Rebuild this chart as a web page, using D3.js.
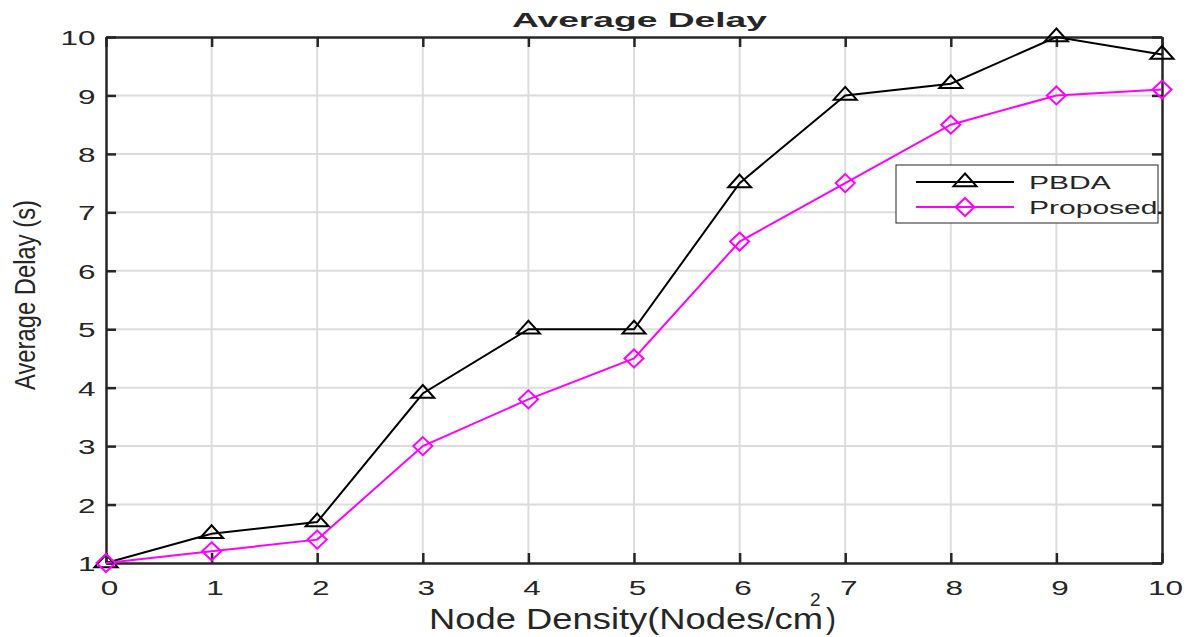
<!DOCTYPE html>
<html>
<head>
<meta charset="utf-8">
<script src="https://cdn.jsdelivr.net/npm/d3@7"></script>
<style>
  body { margin: 0; background: #fff; }
  text { font-family: "Liberation Sans", Arial, sans-serif; fill: #262626; }
</style>
</head>
<body>
<div id="chart"></div>
<script>
// node density on x, average delay in seconds on y
const density = [0, 1, 2, 3, 4, 5, 6, 7, 8, 9, 10];
const pbda = [1, 1.5, 1.7, 3.9, 5, 5, 7.5, 9, 9.2, 10, 9.7];
const proposed = [1, 1.2, 1.4, 3, 3.8, 4.5, 6.5, 7.5, 8.5, 9, 9.1];
const xTicks = [0, 1, 2, 3, 4, 5, 6, 7, 8, 9, 10];
const yTicks = [1, 2, 3, 4, 5, 6, 7, 8, 9, 10];

const W = 1186, H = 637;
const margin = {top: 37, right: 24, bottom: 74, left: 106};
const innerW = W - margin.left - margin.right,
      innerH = H - margin.top - margin.bottom;

const svg = d3.select("#chart").append("svg")
    .attr("width", W)
    .attr("height", H);

const x = d3.scaleLinear().domain([0, 10]).range([0, innerW]);
const y = d3.scaleLinear().domain([1, 10]).range([innerH, 0]);

const g = svg.append("g")
    .attr("transform", "translate(" + margin.left + "," + margin.top + ")");

// grid
g.append("g").selectAll("line")
    .data(xTicks.slice(1, -1))
    .enter().append("line")
    .attr("x1", d => x(d)).attr("x2", d => x(d))
    .attr("y1", 0).attr("y2", innerH)
    .attr("stroke", "#dcdcdc").attr("stroke-width", 2);
g.append("g").selectAll("line")
    .data(yTicks.slice(1, -1))
    .enter().append("line")
    .attr("x1", 0).attr("x2", innerW)
    .attr("y1", d => y(d)).attr("y2", d => y(d))
    .attr("stroke", "#dcdcdc").attr("stroke-width", 2);

// axes (ticks pointing inward, box on all sides)
const tickLen = 10;
const xAxis = g.append("g")
    .attr("transform", "translate(0," + innerH + ")")
    .call(d3.axisBottom(x).tickValues(xTicks).tickFormat(d3.format("d"))
        .tickSizeInner(-tickLen).tickSizeOuter(0).tickPadding(17));
const yAxis = g.append("g")
    .call(d3.axisLeft(y).tickValues(yTicks).tickFormat(d3.format("d"))
        .tickSizeInner(-tickLen).tickSizeOuter(0).tickPadding(7));
g.append("g")
    .call(d3.axisTop(x).tickValues(xTicks).tickFormat("")
        .tickSizeInner(-tickLen).tickSizeOuter(0));
g.append("g")
    .attr("transform", "translate(" + innerW + ",0)")
    .call(d3.axisRight(y).tickValues(yTicks).tickFormat("")
        .tickSizeInner(-tickLen).tickSizeOuter(0));

g.selectAll(".domain").attr("stroke", "#262626").attr("stroke-width", 2.5);
g.selectAll(".tick line").attr("stroke", "#262626").attr("stroke-width", 2.5);
g.selectAll(".tick text")
    .style("font-family", "'Liberation Sans', Arial, sans-serif")
    .attr("font-size", 21)
    .attr("fill", "#262626")
    .attr("transform", "scale(1.5,1)");
xAxis.selectAll(".tick text").attr("x", 2);
yAxis.selectAll(".tick text").attr("x", -7).attr("dy", "0.36em");

// lines
const line = d3.line().x((d, i) => x(density[i])).y(d => y(d));

g.append("path").datum(pbda)
    .attr("fill", "none").attr("stroke", "#000").attr("stroke-width", 2)
    .attr("d", line);
g.append("path").datum(proposed)
    .attr("fill", "none").attr("stroke", "#ff00ff").attr("stroke-width", 2)
    .attr("d", line);

const triangle = "M0,-8.5L11.5,4.2L-11.5,4.2Z";
const diamond = "M0,-9L9.5,0L0,9L-9.5,0Z";

g.append("g").selectAll("path")
    .data(pbda)
    .enter().append("path")
    .attr("d", triangle)
    .attr("transform", (d, i) => "translate(" + x(density[i]) + "," + y(d) + ")")
    .attr("fill", "none").attr("stroke", "#000").attr("stroke-width", 2);
g.append("g").selectAll("path")
    .data(proposed)
    .enter().append("path")
    .attr("d", diamond)
    .attr("transform", (d, i) => "translate(" + x(density[i]) + "," + y(d) + ")")
    .attr("fill", "none").attr("stroke", "#ff00ff").attr("stroke-width", 2);

// legend
const legend = svg.append("g").attr("transform", "translate(896,165)");
legend.append("rect")
    .attr("width", 262).attr("height", 58)
    .attr("fill", "#fff").attr("stroke", "#262626").attr("stroke-width", 1);
const entries = [
  {name: "PBDA", color: "#000", shape: triangle},
  {name: "Proposed", color: "#ff00ff", shape: diamond}
];
const items = legend.selectAll(".item")
    .data(entries)
    .enter().append("g")
    .attr("class", "item")
    .attr("transform", (d, i) => "translate(0," + (17 + i * 25) + ")");
items.append("line")
    .attr("x1", 20).attr("x2", 118)
    .attr("stroke", d => d.color).attr("stroke-width", 2);
items.append("path")
    .attr("d", d => d.shape)
    .attr("transform", "translate(69,0)")
    .attr("fill", "none").attr("stroke", d => d.color).attr("stroke-width", 2);
items.append("text")
    .attr("transform", "translate(133,0) scale(1.58,1)")
    .attr("dy", "0.36em")
    .attr("font-size", 19)
    .attr("fill", "#000")
    .text(d => d.name);

// title
svg.append("text")
    .attr("x", 512).attr("y", 27)
    .attr("font-size", 21)
    .attr("font-weight", "bold")
    .attr("fill", "#000")
    .attr("textLength", 255)
    .attr("lengthAdjust", "spacingAndGlyphs")
    .text("Average Delay");

// x label
const xl = svg.append("g");
xl.append("text")
    .attr("x", 429).attr("y", 629)
    .attr("font-size", 30)
    .attr("textLength", 394)
    .attr("lengthAdjust", "spacingAndGlyphs")
    .text("Node Density(Nodes/cm");
xl.append("text")
    .attr("x", 810).attr("y", 606)
    .attr("font-size", 19)
    .text("2");
xl.append("text")
    .attr("x", 826).attr("y", 629)
    .attr("font-size", 30)
    .text(")");

// y label
svg.append("text")
    .attr("transform", "translate(35,295) scale(1.25,1) rotate(-90)")
    .attr("text-anchor", "middle")
    .attr("font-size", 24)
    .attr("textLength", 190)
    .attr("lengthAdjust", "spacingAndGlyphs")
    .text("Average Delay (s)");
</script>
</body>
</html>
